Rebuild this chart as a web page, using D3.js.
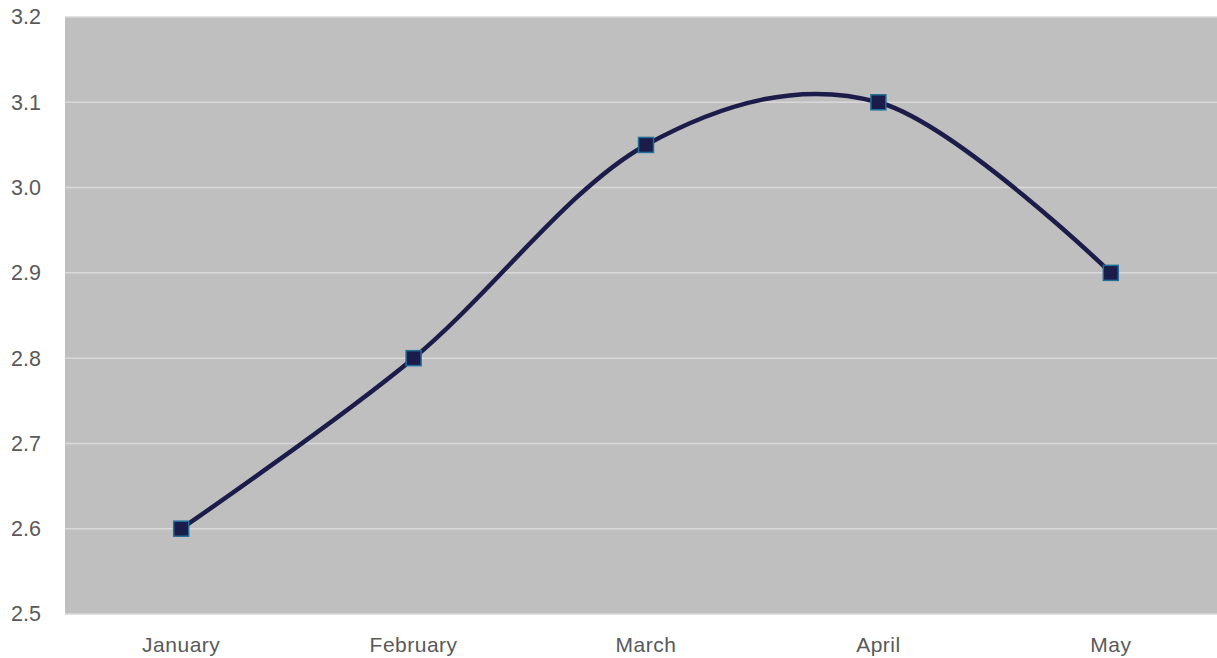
<!DOCTYPE html>
<html>
<head>
<meta charset="utf-8">
<script src="https://cdn.jsdelivr.net/npm/d3@7"></script>
<style>
  html, body { margin: 0; padding: 0; background: #ffffff; }
  svg { display: block; }
</style>
</head>
<body>
<svg id="chart" width="1217" height="658"></svg>
<script>
// Monthly values
const months = ["January", "February", "March", "April", "May"];
const values = [2.6, 2.8, 3.05, 3.1, 2.9];
const yTicks = [2.5, 2.6, 2.7, 2.8, 2.9, 3.0, 3.1, 3.2];

const W = 1217, H = 658;
const margin = { top: 17, right: -10, bottom: 44, left: 65 };
const plotW = W - margin.left - margin.right;
const plotH = H - margin.top - margin.bottom;
const labelFont = "'Liberation Sans', Arial, sans-serif";

const svg = d3.select("#chart");
const g = svg.append("g").attr("transform", `translate(${margin.left},${margin.top})`);

const x = d3.scaleBand().domain(months).range([0, plotW]);
const y = d3.scaleLinear().domain([2.5, 3.2]).range([plotH, 0]);

// plot background
g.append("rect")
  .attr("x", 0).attr("y", 0)
  .attr("width", plotW).attr("height", plotH)
  .attr("fill", "#bfbfbf");

// horizontal gridlines
g.selectAll(".grid")
  .data(yTicks)
  .join("line")
  .attr("x1", 0).attr("x2", plotW)
  .attr("y1", d => y(d)).attr("y2", d => y(d))
  .attr("stroke", "#d9d9d9")
  .attr("stroke-width", 1.5);

// y axis labels
const yAxis = d3.axisLeft(y).tickValues(yTicks).tickFormat(d3.format(".1f")).tickSize(0).tickPadding(0);
const ya = svg.append("g").attr("transform", `translate(0,${margin.top})`).call(yAxis);
ya.select(".domain").remove();
ya.selectAll("text")
  .attr("fill", "#595959")
  .style("font-family", labelFont)
  .style("font-size", "21.5px")
  .attr("x", 11)
  .attr("text-anchor", "start");

// x axis labels
const xAxis = d3.axisBottom(x).tickSize(0);
const xa = svg.append("g").attr("transform", `translate(${margin.left},${margin.top + plotH})`).call(xAxis);
xa.select(".domain").remove();
xa.selectAll("text")
  .attr("fill", "#595959")
  .attr("y", 38)
  .attr("dy", null)
  .style("font-family", labelFont)
  .style("font-size", "21px")
  .style("letter-spacing", "0.5px");

// smoothed series line
const pts = months.map((m, i) => [x(m) + x.bandwidth() / 2, y(values[i])]);
const line = d3.line().curve(d3.curveCardinal.tension(0));
g.append("path")
  .attr("d", line(pts))
  .attr("fill", "none")
  .attr("stroke", "#1c1c4a")
  .attr("stroke-width", 4.5)
  .attr("stroke-linejoin", "round")
  .attr("stroke-linecap", "round");

// square markers
const ms = 15;
g.selectAll(".marker")
  .data(pts)
  .join("rect")
  .attr("x", d => d[0] - ms / 2)
  .attr("y", d => d[1] - ms / 2)
  .attr("width", ms).attr("height", ms)
  .attr("fill", "#1c1c4a")
  .attr("stroke", "#1f6f99")
  .attr("stroke-width", 1.5);
</script>
</body>
</html>
